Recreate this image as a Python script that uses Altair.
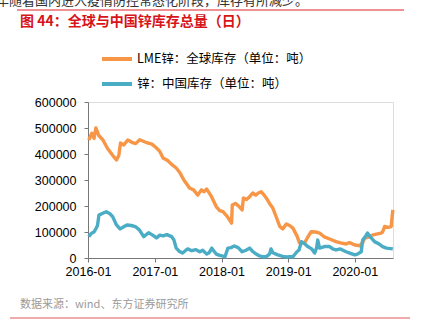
import altair as alt
import pandas as pd

lme_dates = ["2016-01-05","2016-01-22","2016-02-03","2016-02-13","2016-03-01","2016-03-22","2016-04-18","2016-05-15",
"2016-06-05","2016-06-18","2016-06-27","2016-07-15","2016-08-06","2016-08-28","2016-09-18","2016-10-10","2016-11-12",
"2016-12-16","2017-01-10","2017-01-28","2017-02-15","2017-03-12","2017-04-03","2017-04-28","2017-05-16","2017-06-09",
"2017-07-10","2017-08-01","2017-08-24","2017-09-13","2017-09-27","2017-10-12","2017-11-04","2017-12-04","2017-12-22",
"2018-01-09","2018-02-01","2018-02-25","2018-03-01","2018-03-18","2018-04-09","2018-04-24","2018-05-01","2018-05-18",
"2018-06-04","2018-06-21","2018-07-07","2018-07-22","2018-08-06","2018-08-19","2018-09-03","2018-09-21","2018-10-09",
"2018-11-01","2018-11-16","2018-12-02","2018-12-22","2019-01-09","2019-01-27","2019-02-18","2019-03-04","2019-04-01",
"2019-04-18","2019-05-07","2019-06-01","2019-06-22","2019-07-18","2019-08-20","2019-09-20","2019-10-14","2019-11-14",
"2019-12-03","2020-01-01","2020-01-28","2020-02-13","2020-02-25","2020-03-16","2020-04-06","2020-04-28","2020-05-24",
"2020-06-01","2020-06-12","2020-07-03","2020-07-18","2020-07-27"]
lme_values = [454000,480000,460000,500000,470000,455000,420000,395000,
377000,395000,442000,435000,454000,445000,440000,455000,445000,
438000,423000,410000,385000,375000,360000,346000,330000,300000,
269000,262000,242000,262000,255000,265000,240000,197000,182000,
178000,160000,134000,204000,210000,197000,185000,231000,225000,
236000,250000,242000,250000,255000,245000,231000,210000,192000,
150000,121000,112000,131000,125000,115000,85000,58000,58000,
80000,101000,100000,96000,81000,72000,63000,58000,54000,
59000,50000,47000,60000,77000,80000,88000,92000,96000,
100000,121000,118000,121000,185000]

cn_dates = ["2016-01-05","2016-01-20","2016-02-03","2016-02-15","2016-02-22","2016-03-01","2016-03-22","2016-04-10",
"2016-04-30","2016-05-15","2016-06-05","2016-06-24","2016-07-10","2016-08-01","2016-08-25","2016-09-16","2016-10-08",
"2016-11-01","2016-11-28","2016-12-20","2017-01-10","2017-01-28","2017-02-15","2017-03-08","2017-04-03","2017-04-15",
"2017-04-28","2017-05-16","2017-06-02","2017-06-20","2017-06-30","2017-07-22","2017-08-14","2017-09-04","2017-09-20",
"2017-10-12","2017-10-25","2017-11-09","2017-11-22","2017-12-04","2017-12-22","2018-01-20","2018-02-05","2018-02-22",
"2018-03-12","2018-04-02","2018-04-24","2018-05-15","2018-06-04","2018-06-21","2018-07-10","2018-07-28","2018-08-14",
"2018-09-03","2018-09-21","2018-09-29","2018-10-09","2018-11-05","2018-12-02","2018-12-22","2019-01-09","2019-01-27",
"2019-02-18","2019-03-01","2019-03-15","2019-04-01","2019-04-18","2019-05-10","2019-05-26","2019-06-06","2019-06-12",
"2019-06-22","2019-07-18","2019-08-16","2019-09-02","2019-09-20","2019-10-14","2019-11-14","2019-12-08","2020-01-01",
"2020-01-15","2020-02-05","2020-02-13","2020-03-01","2020-03-10","2020-03-27","2020-04-18","2020-05-10","2020-06-01",
"2020-06-22","2020-07-27"]
cn_values = [82000,95000,100000,115000,125000,165000,172000,178000,
170000,159000,127000,112000,118000,127000,125000,121000,108000,
82000,97000,88000,77000,88000,85000,90000,82000,70000,
38000,25000,19000,30000,35000,28000,32000,24000,30000,
15000,20000,38000,25000,15000,10000,5000,38000,40000,
46000,40000,24000,30000,38000,25000,15000,8000,5000,
5000,15000,35000,20000,12000,6000,4000,5000,5000,
24000,30000,63000,55000,44000,35000,19000,40000,69000,
38000,44000,44000,35000,31000,35000,24000,18000,12000,
15000,24000,69000,85000,96000,80000,63000,55000,44000,
38000,35000]

series_names = ["LME锌：全球库存（单位：吨）", "锌：中国库存（单位：吨）"]
series_colors = ["#F79646", "#4BACC6"]
title_text = "图 44：全球与中国锌库存总量（日）"
source_text = "数据来源：wind、东方证券研究所"
top_text = "年随着国内进入疫情防控常态化阶段，库存有所减少。"

df = pd.concat([
    pd.DataFrame({"date": lme_dates, "value": lme_values, "series": series_names[0]}),
    pd.DataFrame({"date": cn_dates, "value": cn_values, "series": series_names[1]}),
])

W, H = 305, 156
CJK = "Noto Sans CJK SC"

lines = alt.Chart(df).mark_line(strokeWidth=3.4, strokeJoin="round").encode(
    x=alt.X("date:T",
            scale=alt.Scale(domain=["2016-01-01", "2020-07-28"]),
            axis=alt.Axis(format="%Y-%m", tickCount={"interval": "year", "step": 1},
                          title=None, grid=False, labelFont="Liberation Sans",
                          labelFontSize=12.5, labelColor="#000", domainColor="#777",
                          tickColor="#777", tickSize=4, labelPadding=3, labelFlush=False)),
    y=alt.Y("value:Q",
            scale=alt.Scale(domain=[0, 600000]),
            axis=alt.Axis(values=[0, 100000, 200000, 300000, 400000, 500000, 600000],
                          format="d", title=None, grid=False, labelFont="Liberation Sans",
                          labelFontSize=12.5, labelColor="#000", domainColor="#777",
                          tickColor="#777", tickSize=4, labelPadding=8)),
    color=alt.Color("series:N",
                    scale=alt.Scale(domain=series_names, range=series_colors),
                    legend=alt.Legend(orient="none", legendX=12, legendY=-60, title=None,
                                      symbolType="stroke", symbolStrokeWidth=4,
                                      symbolSize=900, labelFont=CJK, labelFontSize=12.5,
                                      labelColor="#000", labelOffset=3, rowPadding=-8,
                                      labelLimit=400)),
)

title = alt.Chart(pd.DataFrame({"t": [title_text]})).mark_text(
    align="left", baseline="middle", font=CJK, fontSize=14,
    fontWeight="bold", color="#D7141A").encode(
    text="t:N", x=alt.value(-68), y=alt.value(-80))

src = alt.Chart(pd.DataFrame({"t": [source_text]})).mark_text(
    align="left", baseline="middle", font=CJK, fontSize=11, color="#9a9a9a").encode(
    text="t:N", x=alt.value(-68), y=alt.value(203))

top = alt.Chart(pd.DataFrame({"t": [top_text]})).mark_text(
    align="left", baseline="alphabetic", font=CJK, fontSize=13, color="#333").encode(
    text="t:N", x=alt.value(-92), y=alt.value(-97))

red_rule = alt.Chart(pd.DataFrame({"a": [0]})).mark_rule(color="#E0252B", strokeWidth=1).encode(
    x=alt.value(-71), x2=alt.value(316), y=alt.value(-92))
pink_rule = alt.Chart(pd.DataFrame({"a": [0]})).mark_rule(color="#EC8E8E", strokeWidth=1.5).encode(
    x=alt.value(-78), x2=alt.value(322), y=alt.value(216))

chart = alt.layer(lines, title, src, top, red_rule, pink_rule).properties(
    width=W, height=H,
    autosize=alt.AutoSizeParams(type="none"),
    padding={"left": 88, "top": 102, "right": 34, "bottom": 67},
).configure_view(stroke=None).configure(background="white")

chart.save("out.html", embed_options={"renderer": "svg", "actions": False})
